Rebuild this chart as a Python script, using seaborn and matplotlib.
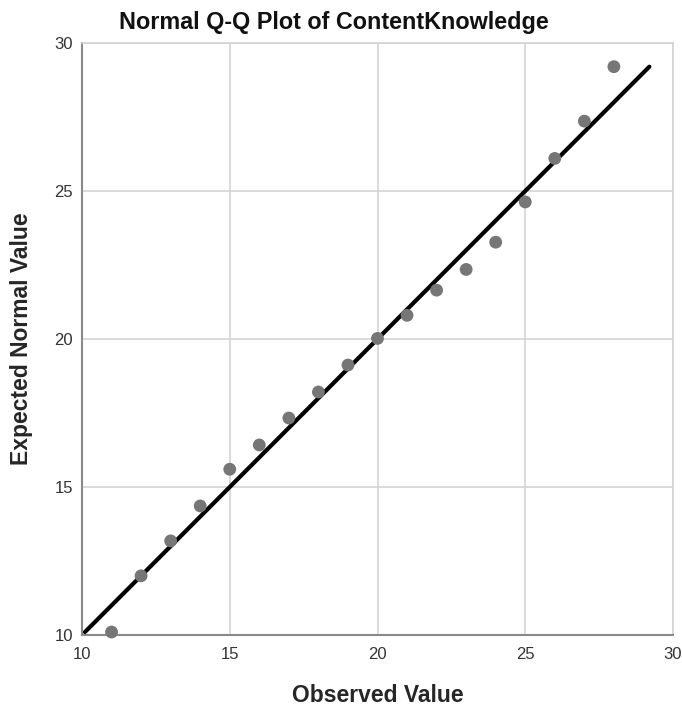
import matplotlib
matplotlib.use("Agg")
import matplotlib.pyplot as plt
import seaborn as sns
import pandas as pd

observed = [11, 12, 13, 14, 15, 16, 17, 18, 19, 20, 21, 22, 23, 24, 25, 26, 27, 28]
expected = [10.1, 12.0, 13.18, 14.36, 15.6, 16.42, 17.33, 18.21, 19.12, 20.02,
            20.8, 21.65, 22.35, 23.27, 24.63, 26.1, 27.36, 29.2]
line_x = [10.1, 29.2]
line_y = [10.1, 29.2]
ticks = [10, 15, 20, 25, 30]

sns.set_theme(style="white")
plt.rcParams['font.family'] = ['Liberation Sans', 'DejaVu Sans']

df = pd.DataFrame({"Observed Value": observed, "Expected Normal Value": expected})

fig = plt.figure(figsize=(6.82, 7.11), dpi=100)
ax = fig.add_axes([82/682, 1-635/711, (673-82)/682, (635-43)/711])

ax.set_xlim(10, 30)
ax.set_ylim(10, 30)
ax.set_xticks(ticks)
ax.set_yticks(ticks)
ax.grid(True, color="#d4d4d4", linewidth=1.2)
ax.set_axisbelow(True)

sns.lineplot(x=line_x, y=line_y, ax=ax, color="black", linewidth=3.0, zorder=3)
sns.scatterplot(data=df, x="Observed Value", y="Expected Normal Value", ax=ax,
                color="#767676", s=85, edgecolor="none", zorder=4, clip_on=False)

for side in ["top", "right"]:
    ax.spines[side].set_color("#d4d4d4")
    ax.spines[side].set_linewidth(1.2)
for side in ["left", "bottom"]:
    ax.spines[side].set_color("#8a8a8a")
    ax.spines[side].set_linewidth(1.5)

ax.tick_params(axis="both", length=0, labelsize=12, colors="#333333")
ax.tick_params(axis="y", pad=6.5)
ax.tick_params(axis="x", pad=8.5)
for lab in ax.get_yticklabels():
    lab.set_verticalalignment("center_baseline")
ax.set_xlabel("Observed Value", fontsize=16.5, fontweight="bold")
ax.set_ylabel("Expected Normal Value", fontsize=16.5, fontweight="bold")
ax.xaxis.set_label_coords(0.5, -60/592)
ax.yaxis.set_label_coords(-60/591, 0.5)
ax.xaxis.label.set_verticalalignment("center")
ax.yaxis.label.set_verticalalignment("center")
fig.text(334/682, 1-23/711, "Normal Q-Q Plot of ContentKnowledge", fontsize=16.8,
         fontweight="bold", ha="center", va="center", color="#111111")

fig.savefig("out.png", dpi=100)
